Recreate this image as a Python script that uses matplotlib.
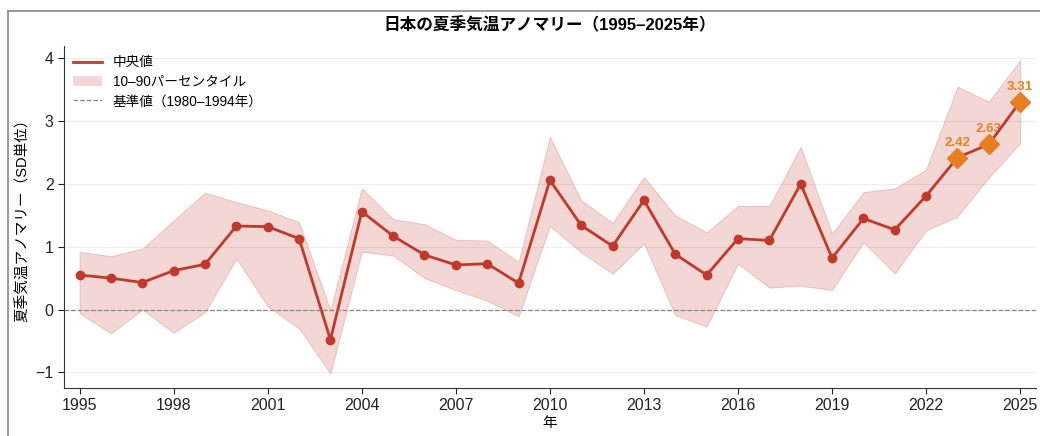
import matplotlib
matplotlib.use("Agg")
import matplotlib.pyplot as plt
from matplotlib.lines import Line2D
from matplotlib.patches import Patch

plt.rcParams['font.family'] = ['Liberation Sans', 'Noto Sans CJK JP', 'DejaVu Sans']

years = list(range(1995, 2026))
median = [0.55, 0.50, 0.43, 0.62, 0.72, 1.33, 1.32, 1.13, -0.48, 1.56,
          1.17, 0.87, 0.71, 0.73, 0.42, 2.06, 1.34, 1.01, 1.74, 0.88,
          0.55, 1.13, 1.10, 2.00, 0.82, 1.45, 1.27, 1.81, 2.42, 2.63, 3.31]
p10 = [-0.06, -0.38, 0.00, -0.37, -0.04, 0.81, 0.05, -0.30, -1.02, 0.92,
       0.86, 0.50, 0.31, 0.14, -0.11, 1.33, 0.91, 0.57, 1.05, -0.09,
       -0.27, 0.73, 0.35, 0.38, 0.31, 1.07, 0.57, 1.26, 1.48, 2.10, 2.65]
p90 = [0.92, 0.85, 0.97, 1.42, 1.86, 1.71, 1.58, 1.39, -0.01, 1.93,
       1.44, 1.36, 1.11, 1.10, 0.76, 2.75, 1.74, 1.38, 2.11, 1.50,
       1.23, 1.65, 1.65, 2.59, 1.21, 1.87, 1.93, 2.23, 3.55, 3.31, 3.97]
recent_years = [2023, 2024, 2025]
recent_vals = [2.42, 2.63, 3.31]
xticks = list(range(1995, 2026, 3))
yticks = [-1, 0, 1, 2, 3, 4]

red = '#C0392B'
orange = '#E67E22'

fig = plt.figure(figsize=(10.4, 4.36), dpi=100)
ax = fig.add_axes([0.0615, 0.110, 0.9345, 0.785])

ax.fill_between(years, p10, p90, color=red, alpha=0.2, linewidth=0.8)
ax.plot(years, median, color=red, linewidth=2, marker='o', markersize=6)
ax.axhline(0, color='#888888', linestyle='--', linewidth=0.9)

ax.plot(recent_years, recent_vals, linestyle='none', marker='D',
        markersize=10, color=orange, zorder=5)
for x, v in zip(recent_years, recent_vals):
    ax.annotate(f'{v:.2f}', (x, v), xytext=(0, 6.5), textcoords='offset points',
                ha='center', va='bottom', color=orange, fontsize=9.5,
                fontweight='bold', zorder=1)

ax.set_xlim(1994.5, 2025.5)
ax.set_ylim(-1.25, 4.2)
ax.set_xticks(xticks)
ax.set_yticks(yticks)
ax.set_yticklabels(['−1', '0', '1', '2', '3', '4'])
ax.tick_params(labelsize=11.5, colors='#222222', length=4)
ax.grid(axis='y', color='#eeeeee', linewidth=0.8)
ax.set_axisbelow(True)
for side in ['top', 'right']:
    ax.spines[side].set_visible(False)
for side in ['left', 'bottom']:
    ax.spines[side].set_color('#333333')

ax.set_xlabel('年', fontsize=10.5, labelpad=2)
ax.set_ylabel('夏季気温アノマリー（SD単位）', fontsize=10.5, labelpad=4)
ax.set_title('日本の夏季気温アノマリー（1995–2025年）', fontsize=12,
             fontweight='bold', pad=11)

handles = [
    Line2D([], [], color=red, linewidth=2),
    Patch(facecolor=red, alpha=0.2, edgecolor='none'),
    Line2D([], [], color='#888888', linestyle='--', linewidth=0.9),
]
labels = ['中央値', '10–90パーセンタイル', '基準値（1980–1994年）']
ax.legend(handles, labels, loc='upper left', frameon=False, fontsize=9.8,
          handlelength=2.1, borderaxespad=0.3, labelspacing=0.4)

# outer frame of the panel
fig.add_artist(Line2D([8 / 1040, 8 / 1040], [0, 1 - 11 / 436],
                      transform=fig.transFigure, color='#888888', linewidth=1.2))
fig.add_artist(Line2D([8 / 1040, 1], [1 - 11 / 436, 1 - 11 / 436],
                      transform=fig.transFigure, color='#888888', linewidth=1.2))

fig.savefig('out.png', dpi=100)
